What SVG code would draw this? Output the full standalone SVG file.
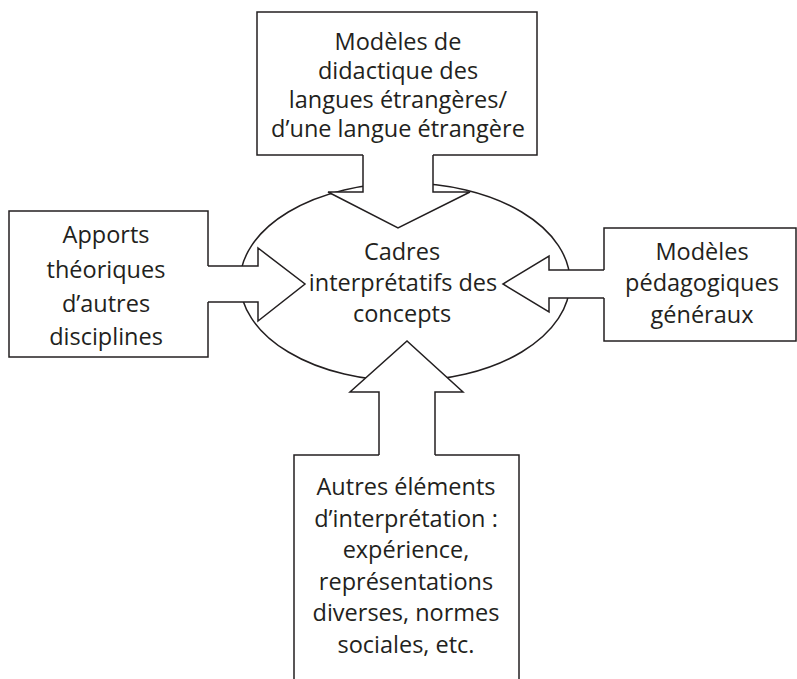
<svg xmlns="http://www.w3.org/2000/svg" width="797" height="679" viewBox="0 0 797 679">
<style>
.shape{fill:#fff;stroke:#231f20;stroke-width:1.5}
.line{fill:none;stroke:#231f20;stroke-width:1.5;stroke-linejoin:miter}
.cover{fill:#fff;stroke:none}
text{font-family:"Open Sans","Noto Sans",sans-serif;font-size:23.5px;fill:#231f20;text-anchor:middle}
</style>
<rect width="797" height="679" fill="#fff"/>
<g id="node-center">
<ellipse class="shape" cx="405" cy="282" rx="165" ry="99"/>
<text x="402" y="260">Cadres</text>
<text x="403" y="291">interprétatifs des</text>
<text x="402" y="321.5">concepts</text>
</g>
<g id="node-top">
<rect class="shape" x="257" y="12" width="280" height="143"/>
<text x="398" y="49.5">Modèles de</text>
<text x="398" y="78.5">didactique des</text>
<text x="398" y="107.5">langues étrangères/</text>
<text x="398" y="137">d’une langue étrangère</text>
</g>
<g id="node-left">
<rect class="shape" x="9" y="211" width="199" height="146"/>
<text x="106" y="243">Apports</text>
<text x="106" y="277.5">théoriques</text>
<text x="106" y="311.5">d’autres</text>
<text x="106" y="345">disciplines</text>
</g>
<g id="node-right">
<rect class="shape" x="604" y="228" width="192" height="113"/>
<text x="702" y="260">Modèles</text>
<text x="702" y="291">pédagogiques</text>
<text x="702" y="322.5">généraux</text>
</g>
<g id="node-bottom">
<rect class="shape" x="294" y="455" width="225" height="240"/>
<text x="406" y="495">Autres éléments</text>
<text x="406" y="526.5">d’interprétation :</text>
<text x="406" y="558">expérience,</text>
<text x="406" y="589.5">représentations</text>
<text x="406" y="621">diverses, normes</text>
<text x="406" y="652.5">sociales, etc.</text>
</g>
<g id="connectors">
<g id="arrow-top">
<polygon class="cover" points="363,150 363,192 328,192 398,228 470,192 433,192 433,150"/>
<polyline class="line" points="363,155 363,192 328,192 398,228 470,192 433,192 433,155"/>
</g>
<g id="arrow-left">
<polygon class="cover" points="203,266 258,266 258,248 305,284 258,321 258,302 203,302"/>
<polyline class="line" points="208,266 258,266 258,248 305,284 258,321 258,302 208,302"/>
</g>
<g id="arrow-right">
<polygon class="cover" points="609,270 549,270 549,256 503,284 549,312 549,298 609,298"/>
<polyline class="line" points="604,270 549,270 549,256 503,284 549,312 549,298 604,298"/>
</g>
<g id="arrow-bottom">
<polygon class="cover" points="379,460 379,392 350,392 407,341 463,392 435,392 435,460"/>
<polyline class="line" points="379,455 379,392 350,392 407,341 463,392 435,392 435,455"/>
</g>
</g>
</svg>
